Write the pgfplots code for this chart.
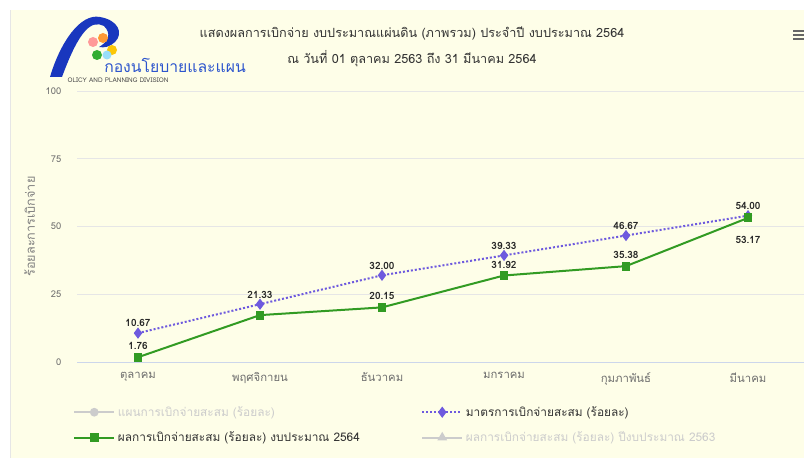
\documentclass[border=0pt]{standalone}
\usepackage{pgfplots}
\pgfplotsset{compat=1.18}
\usepackage{fontspec}
\setmainfont[Script=Thai]{Loma}
\definecolor{cream}{RGB}{254,254,232}
\definecolor{gridc}{RGB}{230,230,230}
\definecolor{axisc}{RGB}{204,214,235}
\definecolor{txt}{RGB}{51,51,51}
\definecolor{lbl}{RGB}{110,110,110}
\definecolor{mgreen}{RGB}{50,155,35}
\definecolor{mpurple}{RGB}{110,90,222}
\definecolor{faded}{RGB}{204,204,204}
\definecolor{logoblue}{RGB}{25,55,190}
\definecolor{logotext}{RGB}{45,85,205}

\begin{document}
\begin{tikzpicture}[x=0.75pt,y=0.75pt]
\path[use as bounding box] (0,0) rectangle (804,458);
\clip (0,0) rectangle (804,458);
\fill[white] (0,0) rectangle (804,458);
\fill[cream] (10,0) rectangle (804,448);
\draw[gridc] (10,0) -- (10,448);

% logo
\fill[logoblue]
  (50,381) .. controls (60,415) and (80,445) .. (100,441)
  .. controls (118,438) and (124,425) .. (115,416)
  .. controls (110,411) and (104,410) .. (99,411)
  .. controls (108,416) and (112,424) .. (104,432)
  .. controls (92,438) and (80,430) .. (62,381) -- cycle;
\fill[pink!80!red] (93,416) circle (5);
\fill[orange!80] (103,420) circle (5);
\fill[yellow!60!orange] (112,408) circle (5);
\fill[cyan!40] (107,403) circle (4.5);
\fill[green!60!black!80] (97,403) circle (5);
\node[text=logotext, inner sep=0pt, font=\fontsize{11.8}{13}\selectfont] at (175,393) {กองนโยบายและแผน};
\node[text=black!70, inner sep=0pt, font=\fontsize{4.8}{5}\selectfont] at (118,378) {OLICY AND PLANNING DIVISION};

% menu icon
\foreach \yy in {427,423,419} \draw[black!60, line width=2] (793,\yy) -- (804,\yy);

% title
\node[text=txt, font=\fontsize{9.5}{11}\selectfont] at (412,425) {แสดงผลการเบิกจ่าย งบประมาณแผ่นดิน (ภาพรวม) ประจำปี งบประมาณ 2564};
\node[text=txt, font=\fontsize{9.5}{11}\selectfont] at (412,399) {ณ วันที่ 01 ตุลาคม 2563 ถึง 31 มีนาคม 2564};

\begin{axis}[
  at={(57.75pt,72pt)}, anchor=south west,
  scale only axis, width=545.25pt, height=203.25pt,
  xmin=-0.5, xmax=5.459, ymin=0, ymax=100,
  ytick={0,25,50,75,100},
  xtick={0,...,5},
  xticklabels={ตุลาคม,พฤศจิกายน,ธันวาคม,มกราคม,กุมภาพันธ์,มีนาคม},
  extra x ticks={-0.5,0.5,1.5,2.5,3.5,4.5}, extra x tick labels={},
  extra x tick style={major tick length=6pt, tick style={draw=axisc, line width=0.75pt}},
  tick align=outside, xtick pos=lower, ytick pos=left,
  xtick style={draw=none}, ytick style={draw=none},
  axis line style={draw=none},
  ymajorgrids, grid style={gridc, line width=0.75pt},
  /pgf/number format/assume math mode=true,
  yticklabel style={font=\fontsize{7}{8}\selectfont, text=lbl, anchor=east, xshift=-4pt},
  xticklabel style={font=\fontsize{8.5}{10}\selectfont, text=lbl, yshift=0pt},
  every axis y label/.style={at={(axis description cs:-0.065,0.5)}, rotate=90, anchor=center,
    font=\fontsize{9.5}{11}\selectfont, text=black!50},
  ylabel={ร้อยละการเบิกจ่าย},
  legend columns=2,
  legend cell align=left,
  legend style={at={(0,0)}, anchor=north west, xshift=-6pt, yshift=-29pt,
    draw=none, fill=none, font=\fontsize{8.9}{10}\selectfont, text=txt,
    /tikz/every even column/.append style={column sep=44pt},
    /tikz/row sep=6pt},
  legend image code/.code={\draw[mark repeat=2,mark phase=2,#1] plot coordinates {(0pt,0pt)(15pt,0pt)(30pt,0pt)};},
  nodes near coords style={font=\bfseries\fontsize{7.5}{9}\selectfont, text=black!85},
]
\draw[axisc, line width=0.75pt] (axis cs:-0.5,0) -- (axis cs:5.459,0);

\addlegendimage{faded, line width=1.5pt, mark=*, mark size=2.5pt}
\addlegendentry[text=faded]{แผนการเบิกจ่ายสะสม (ร้อยละ)}

\addplot[mpurple, line width=1.5pt, dash pattern=on 1.5pt off 1.5pt,
  mark=diamond*, mark size=3pt, mark options={solid}]
  coordinates {(0,10.67) (1,21.33) (2,32.00) (3,39.33) (4,46.67) (5,54.00)};
\addlegendentry{มาตรการเบิกจ่ายสะสม (ร้อยละ)}

\addplot[mgreen, line width=1.5pt, mark=square*, mark size=2.6pt]
  coordinates {(0,1.76) (1,17.3) (2,20.15) (3,31.92) (4,35.38) (5,53.17)};
\addlegendentry{ผลการเบิกจ่ายสะสม (ร้อยละ) งบประมาณ 2564}

\addlegendimage{faded, line width=1.5pt, mark=triangle*, mark size=2.8pt}
\addlegendentry[text=faded]{ผลการเบิกจ่ายสะสม (ร้อยละ) ปีงบประมาณ 2563}

% data labels
\addplot[draw=none, mark=none, forget plot, nodes near coords, point meta=explicit symbolic,
  every node near coord/.append style={anchor=south, yshift=1pt}]
  coordinates {(0,10.67)[10.67] (1,21.33)[21.33] (2,32.00)[32.00] (3,39.33)[39.33] (4,46.67)[46.67] (5,54.00)[54.00]};
\addplot[draw=none, mark=none, forget plot, nodes near coords, point meta=explicit symbolic,
  every node near coord/.append style={anchor=south, yshift=2pt}]
  coordinates {(0,1.76)[1.76] (2,20.15)[20.15] (3,31.92)[31.92] (4,35.38)[35.38]};
\addplot[draw=none, mark=none, forget plot, nodes near coords, point meta=explicit symbolic,
  every node near coord/.append style={anchor=north, yshift=-10pt}]
  coordinates {(5,53.17)[53.17]};
\end{axis}
\end{tikzpicture}
\end{document}
